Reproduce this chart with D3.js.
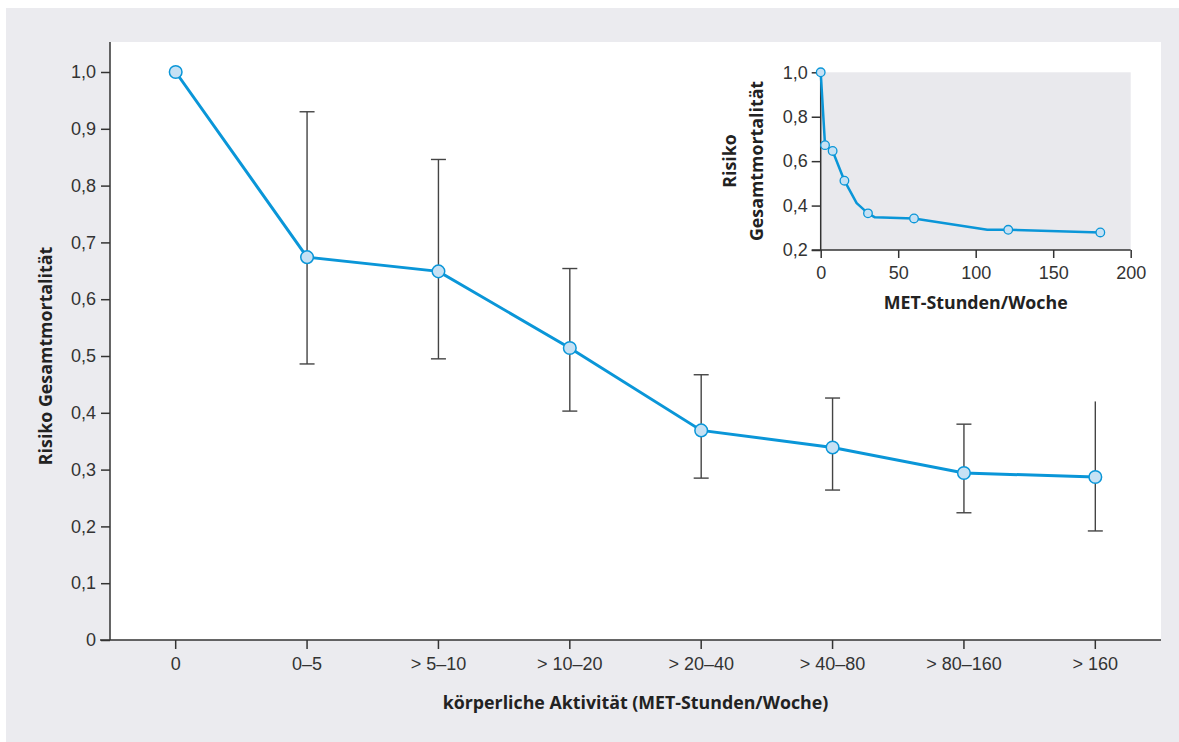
<!DOCTYPE html>
<html>
<head>
<meta charset="utf-8">
<script src="https://cdn.jsdelivr.net/npm/d3@7"></script>
<style>
  body { margin: 0; background: #fff; }
  svg { display: block; font-family: "Open Sans", "Noto Sans", sans-serif; }
</style>
</head>
<body>
<div id="chart"></div>
<script>
// Hauptdiagramm: Kategorien, Risiko und Konfidenzintervalle
const kategorien = ['0', '0–5', '> 5–10', '> 10–20', '> 20–40', '> 40–80', '> 80–160', '> 160'];
const risiko = [1.0, 0.674, 0.649, 0.514, 0.369, 0.339, 0.294, 0.287];
const ciOben = [null, 0.930, 0.846, 0.654, 0.467, 0.426, 0.380, 0.420];
const ciUnten = [null, 0.486, 0.495, 0.403, 0.285, 0.264, 0.224, 0.192];
const kappeOben = [false, true, true, true, true, true, true, false];
const yTicks = [0, 0.1, 0.2, 0.3, 0.4, 0.5, 0.6, 0.7, 0.8, 0.9, 1.0];

// Inset: Kurve (mit Knickpunkten) und Messpunkte
const kurveMET = [0, 2.8, 7.7, 15.3, 23.2, 30.5, 35, 60.2, 107.5, 121, 180.4];
const kurveRisiko = [1.0, 0.672, 0.646, 0.512, 0.411, 0.365, 0.347, 0.342, 0.291, 0.291, 0.279];
const punkteMET = [0, 2.8, 7.7, 15.3, 30.5, 60.2, 121, 180.4];
const punkteRisiko = [1.0, 0.672, 0.646, 0.512, 0.365, 0.342, 0.291, 0.279];
const insetXTicks = [0, 50, 100, 150, 200];
const insetYTicks = [0.2, 0.4, 0.6, 0.8, 1.0];

const W = 1179, H = 742;
const fmt = v => v === 0 ? '0' : v.toFixed(1).replace('.', ',');
const blau = '#0a96d8', punktFill = '#c6e1f4', achse = '#333', text = '#333';
const tickFont = '18px', titelFont = '17.8px';

const svg = d3.select('#chart').append('svg').attr('width', W).attr('height', H);
svg.append('rect').attr('x', 6).attr('y', 8).attr('width', W - 6).attr('height', H - 8).attr('fill', '#ebebef');

const plot = { left: 110, right: 1161, top: 42, bottom: 640 };
svg.append('rect').attr('x', plot.left).attr('y', plot.top)
  .attr('width', plot.right - plot.left).attr('height', plot.bottom - plot.top).attr('fill', '#fff');

const x = d3.scaleBand().domain(kategorien).range([plot.left, plot.right]);
const cx = d => x(d) + x.bandwidth() / 2;
const y = d3.scaleLinear().domain([0, 1]).range([plot.bottom, 72]);

// Achsen
const yAxis = svg.append('g').attr('transform', `translate(${plot.left},0)`)
  .call(d3.axisLeft(y).tickValues(yTicks).tickFormat(fmt).tickSize(9).tickPadding(5));
yAxis.select('.domain').attr('d', `M0,${plot.top}V${plot.bottom}`);
const xAxis = svg.append('g').attr('transform', `translate(0,${plot.bottom})`)
  .call(d3.axisBottom(x).tickSize(9).tickPadding(8));
xAxis.select('.domain').attr('d', `M${plot.left - 10},0H${plot.right}`);
[yAxis, xAxis].forEach(a => {
  a.selectAll('path, line').attr('stroke', achse).attr('stroke-width', 1.5);
  a.selectAll('text').attr('fill', text).style('font-size', tickFont);
});

svg.append('text').attr('x', (plot.left + plot.right) / 2).attr('y', 709).attr('text-anchor', 'middle')
  .style('font-size', titelFont).style('font-weight', 700).attr('fill', '#222')
  .text('körperliche Aktivität (MET-Stunden/Woche)');
svg.append('text').attr('transform', `translate(52,356) rotate(-90)`).attr('text-anchor', 'middle')
  .style('font-size', titelFont).style('font-weight', 700).attr('fill', '#222')
  .text('Risiko Gesamtmortalität');

// Fehlerbalken
const daten = kategorien.map((k, i) => ({ k, r: risiko[i], o: ciOben[i], u: ciUnten[i], cap: kappeOben[i] }));
const eb = svg.append('g').attr('stroke', '#444').attr('stroke-width', 1.4);
daten.filter(d => d.o !== null).forEach(d => {
  eb.append('line').attr('x1', cx(d.k)).attr('x2', cx(d.k)).attr('y1', y(d.o)).attr('y2', y(d.u));
  eb.append('line').attr('x1', cx(d.k) - 7.5).attr('x2', cx(d.k) + 7.5).attr('y1', y(d.u)).attr('y2', y(d.u));
  if (d.cap) eb.append('line').attr('x1', cx(d.k) - 7.5).attr('x2', cx(d.k) + 7.5).attr('y1', y(d.o)).attr('y2', y(d.o));
});

svg.append('path').datum(daten).attr('fill', 'none').attr('stroke', blau).attr('stroke-width', 3)
  .attr('d', d3.line().x(d => cx(d.k)).y(d => y(d.r)));
svg.selectAll('.pt').data(daten).join('circle').attr('class', 'pt')
  .attr('cx', d => cx(d.k)).attr('cy', d => y(d.r)).attr('r', 6.3)
  .attr('fill', punktFill).attr('stroke', blau).attr('stroke-width', 1.5);

// Inset
const ix = d3.scaleLinear().domain([0, 200]).range([820.7, 1130.7]);
const iy = d3.scaleLinear().domain([0.2, 1.0]).range([250, 72.3]);
svg.append('rect').attr('x', ix(0)).attr('y', iy(1)).attr('width', ix(200) - ix(0)).attr('height', iy(0.2) - iy(1))
  .attr('fill', '#e9e9ed');
const iyAxis = svg.append('g').attr('transform', `translate(${ix(0)},0)`)
  .call(d3.axisLeft(iy).tickValues(insetYTicks).tickFormat(fmt).tickSize(9).tickPadding(4));
iyAxis.select('.domain').attr('d', `M0,${iy(1)}V${iy(0.2)}`);
const ixAxis = svg.append('g').attr('transform', `translate(0,${iy(0.2)})`)
  .call(d3.axisBottom(ix).tickValues(insetXTicks).tickSize(8).tickPadding(8));
ixAxis.select('.domain').attr('d', `M${ix(0) - 9},0H${ix(200)}`);
[iyAxis, ixAxis].forEach(a => {
  a.selectAll('path, line').attr('stroke', achse).attr('stroke-width', 1.5);
  a.selectAll('text').attr('fill', text).style('font-size', tickFont);
});

const kurve = kurveMET.map((m, i) => [m, kurveRisiko[i]]);
svg.append('path').datum(kurve).attr('fill', 'none').attr('stroke', blau).attr('stroke-width', 2.5)
  .attr('stroke-linejoin', 'round')
  .attr('d', d3.line().x(d => ix(d[0])).y(d => iy(d[1])));
svg.selectAll('.ipt').data(punkteMET.map((m, i) => [m, punkteRisiko[i]])).join('circle').attr('class', 'ipt')
  .attr('cx', d => ix(d[0])).attr('cy', d => iy(d[1])).attr('r', 4.3)
  .attr('fill', punktFill).attr('stroke', blau).attr('stroke-width', 1.3);

svg.append('text').attr('x', (ix(0) + ix(200)) / 2).attr('y', 309).attr('text-anchor', 'middle')
  .style('font-size', titelFont).style('font-weight', 700).attr('fill', '#222').text('MET-Stunden/Woche');
const iTitel = svg.append('text').attr('transform', `translate(736,161) rotate(-90)`).attr('text-anchor', 'middle')
  .style('font-size', titelFont).style('font-weight', 700).attr('fill', '#222');
iTitel.append('tspan').attr('x', 0).attr('dy', 0).text('Risiko');
iTitel.append('tspan').attr('x', 0).attr('dy', 27).text('Gesamtmortalität');
</script>
</body>
</html>
